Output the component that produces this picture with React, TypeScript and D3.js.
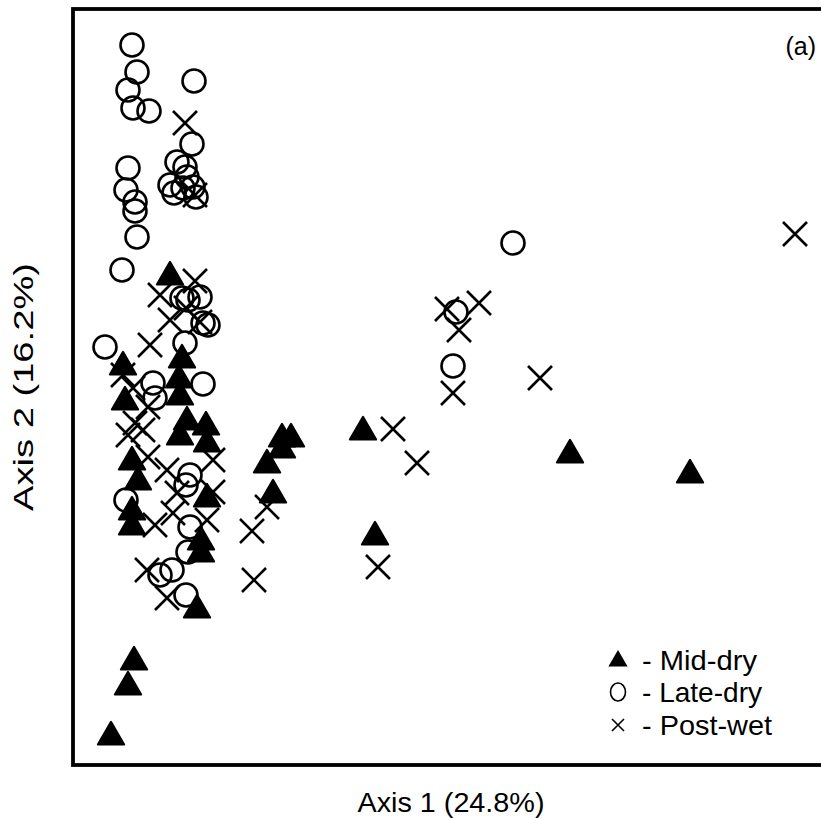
import React from "react";
import * as d3 from "d3";

// Ordination scores (axis 1, axis 2) for each sampling period
const midDryX = [0.97, 0.50, 0.52, 1.09, 1.06, 1.07, 1.14, 1.33, 1.07, 1.34, 0.59, 0.65, 1.34, 0.59, 0.59, 1.28, 1.28, 1.24, 0.61, 0.55, 0.38, 2.09, 2.18, 2.09, 1.94, 2.00, 2.90, 3.02, 4.97, 6.17];
const midDryY = [4.90, 4.00, 3.65, 4.07, 3.87, 3.70, 3.45, 3.40, 3.30, 3.23, 3.05, 2.85, 2.68, 2.55, 2.40, 2.25, 2.13, 1.57, 1.05, 0.80, 0.30, 3.28, 3.28, 3.17, 3.02, 2.72, 3.35, 2.30, 3.12, 2.92];

const lateDryX = [0.59, 0.64, 0.55, 0.60, 0.76, 1.21, 1.19, 0.55, 0.53, 0.62, 0.62, 0.64, 0.49, 1.04, 1.12, 0.97, 1.01, 1.14, 1.20, 1.23, 1.10, 1.09, 1.15, 1.27, 1.30, 1.35, 0.32, 1.12, 0.80, 1.30, 0.82, 1.17, 1.13, 0.53, 1.17, 1.15, 0.87, 0.99, 1.13, 4.40, 3.83, 3.80];
const lateDryY = [7.20, 6.93, 6.75, 6.57, 6.54, 6.84, 6.21, 5.97, 5.75, 5.63, 5.54, 5.28, 4.95, 6.03, 5.98, 5.80, 5.72, 5.88, 5.78, 5.68, 5.77, 4.67, 4.65, 4.68, 4.42, 4.40, 4.18, 4.22, 3.82, 3.81, 3.67, 2.90, 2.80, 2.65, 2.38, 2.13, 1.90, 1.95, 1.70, 5.22, 4.53, 3.99];

const postWetX = [1.12, 1.22, 1.22, 0.87, 0.97, 1.13, 1.27, 0.77, 0.50, 0.60, 0.75, 0.62, 0.55, 0.70, 0.75, 0.94, 1.04, 1.40, 1.40, 0.82, 1.00, 1.34, 0.74, 0.94, 1.94, 1.79, 1.81, 3.05, 3.20, 3.44, 3.74, 4.06, 3.86, 3.80, 4.67, 7.22];
const postWetY = [6.42, 5.70, 4.84, 4.70, 4.45, 4.57, 4.43, 4.20, 3.90, 3.77, 3.58, 3.42, 3.30, 3.35, 3.08, 2.95, 2.72, 3.05, 2.73, 2.40, 2.52, 2.45, 1.95, 1.67, 2.58, 2.34, 1.85, 1.98, 3.36, 3.02, 4.56, 4.62, 4.35, 3.72, 3.87, 5.31];

const seriesNames = ["Mid-dry", "Late-dry", "Post-wet"];
const axisTitles = ["Axis 1 (24.8%)", "Axis 2 (16.2%)"];
const panelTag = "(a)";

const W = 821;
const H = 818;
const FONT = "'Liberation Sans', Arial, Helvetica, sans-serif";

const frame = { left: 73, top: 9, right: 830, bottom: 765 };

export default function App() {
  const x = d3.scaleLinear().domain([0, 7.57]).range([frame.left, frame.right]);
  const y = d3.scaleLinear().domain([0, 7.56]).range([frame.bottom, frame.top]);

  const tri = d3.symbol().type(d3.symbolTriangle).size(300)() as string;
  const triSmall = d3.symbol().type(d3.symbolTriangle).size(160)() as string;

  const midDry = midDryX.map((v, i) => [v, midDryY[i]]);
  const lateDry = lateDryX.map((v, i) => [v, lateDryY[i]]);
  const postWet = postWetX.map((v, i) => [v, postWetY[i]]);

  const crossPath = (s: number) => `M${-s},${-s}L${s},${s}M${-s},${s}L${s},${-s}`;

  const legendX = 618;
  const legendY = [660, 692, 725];

  return (
    <svg
      width={W}
      height={H}
      style={{ position: "absolute", left: 0, top: 0, background: "#fff" }}
      fontFamily={FONT}
    >
      <rect x={0} y={0} width={W} height={H} fill="#fff" />
      <defs>
        <clipPath id="plotClip">
          <rect x={frame.left} y={frame.top} width={frame.right - frame.left} height={frame.bottom - frame.top} />
        </clipPath>
      </defs>

      <g clipPath="url(#plotClip)">
        {lateDry.map((d, i) => (
          <circle key={"l" + i} cx={x(d[0])} cy={y(d[1])} r={11.5} fill="none" stroke="#000" strokeWidth={2.6} />
        ))}
        {postWet.map((d, i) => (
          <path key={"p" + i} d={crossPath(12)} transform={`translate(${x(d[0])},${y(d[1])})`} fill="none" stroke="#000" strokeWidth={2.6} />
        ))}
        {midDry.map((d, i) => (
          <path key={"m" + i} d={tri} transform={`translate(${x(d[0])},${y(d[1]) + 2})`} fill="#000" stroke="#000" strokeWidth={2} strokeLinejoin="round" />
        ))}
      </g>

      <rect
        x={frame.left}
        y={frame.top}
        width={frame.right - frame.left}
        height={frame.bottom - frame.top}
        fill="none"
        stroke="#000"
        strokeWidth={3.8}
      />

      <text x={816} y={55} fontSize={25} textAnchor="end">{panelTag}</text>

      {/* legend */}
      <path d={triSmall} transform={`translate(${legendX},${legendY[0] + 1})`} fill="#000" />
      <ellipse cx={legendX} cy={legendY[1]} rx={7.5} ry={9} fill="none" stroke="#000" strokeWidth={1.6} />
      <path d={crossPath(6)} transform={`translate(${legendX},${legendY[2]})`} stroke="#000" strokeWidth={1.6} />
      {seriesNames.map((n, i) => (
        <text key={n} x={legendX + 24} y={legendY[i] + 10} fontSize={28} textLength={n === "Mid-dry" ? 115 : n === "Late-dry" ? 120 : 130} lengthAdjust="spacingAndGlyphs">{"- " + n}</text>
      ))}

      <text x={451} y={812} fontSize={28} textAnchor="middle" textLength={187} lengthAdjust="spacingAndGlyphs">{axisTitles[0]}</text>
      <text transform={`translate(33,387) rotate(-90)`} fontSize={28} textAnchor="middle" textLength={248} lengthAdjust="spacingAndGlyphs">{axisTitles[1]}</text>
    </svg>
  );
}
